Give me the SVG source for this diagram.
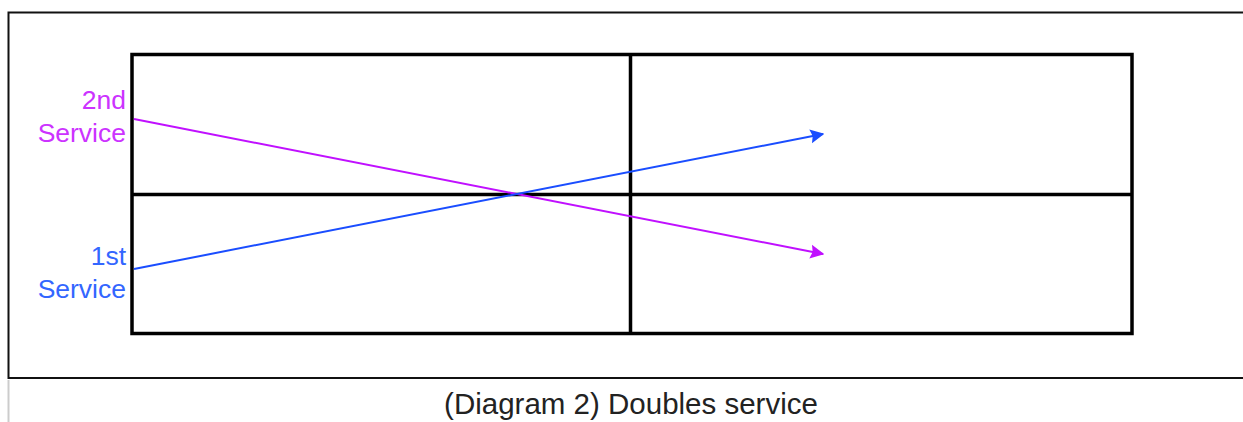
<svg xmlns="http://www.w3.org/2000/svg" width="1243" height="422" viewBox="0 0 1243 422">
<style>
.frame{fill:none;stroke:#111;stroke-width:2}
.court{fill:none;stroke:#000;stroke-width:3.5}
.lbl{font-family:"Liberation Sans",Arial,sans-serif;font-size:26.5px;text-anchor:end}
.cap{font-family:"Liberation Sans",Arial,sans-serif;font-size:29.5px;text-anchor:middle;fill:#222}
</style>
<defs>
<marker id="arrM" viewBox="0 0 10 10" refX="9" refY="5" markerWidth="7" markerHeight="8" orient="auto" markerUnits="strokeWidth"><path d="M0,0 L10,5 L0,10 L1.5,5 Z" fill="#c010ff"/></marker>
<marker id="arrB" viewBox="0 0 10 10" refX="9" refY="5" markerWidth="7" markerHeight="8" orient="auto" markerUnits="strokeWidth"><path d="M0,0 L10,5 L0,10 L1.5,5 Z" fill="#1a4dff"/></marker>
</defs>
<rect width="1243" height="422" fill="#fff"/>
<g id="frame">
<path class="frame" d="M1243,12.5 H8.5 V378 H1243"/>
<line x1="8.5" y1="380" x2="8.5" y2="422" stroke="#ccc" stroke-width="2"/>
</g>
<g id="court">
<rect class="court" x="132" y="54.5" width="1000" height="279"/>
<line class="court" x1="132" y1="194.5" x2="1132" y2="194.5"/>
<line class="court" x1="630.5" y1="54.5" x2="630.5" y2="333.5"/>
</g>
<g id="connectors">
<line x1="134" y1="119" x2="823" y2="254" stroke="#c010ff" stroke-width="2" marker-end="url(#arrM)"/>
<line x1="134" y1="269" x2="823" y2="134" stroke="#1a4dff" stroke-width="2" marker-end="url(#arrB)"/>
</g>
<g id="label-2nd">
<text class="lbl" x="126" y="109" fill="#cc33ff">2nd</text>
<text class="lbl" x="126" y="142" fill="#cc33ff">Service</text>
</g>
<g id="label-1st">
<text class="lbl" x="126" y="265" fill="#3366ff">1st</text>
<text class="lbl" x="126" y="298" fill="#3366ff">Service</text>
</g>
<g id="caption">
<text class="cap" x="631" y="414">(Diagram 2) Doubles service</text>
</g>
</svg>
